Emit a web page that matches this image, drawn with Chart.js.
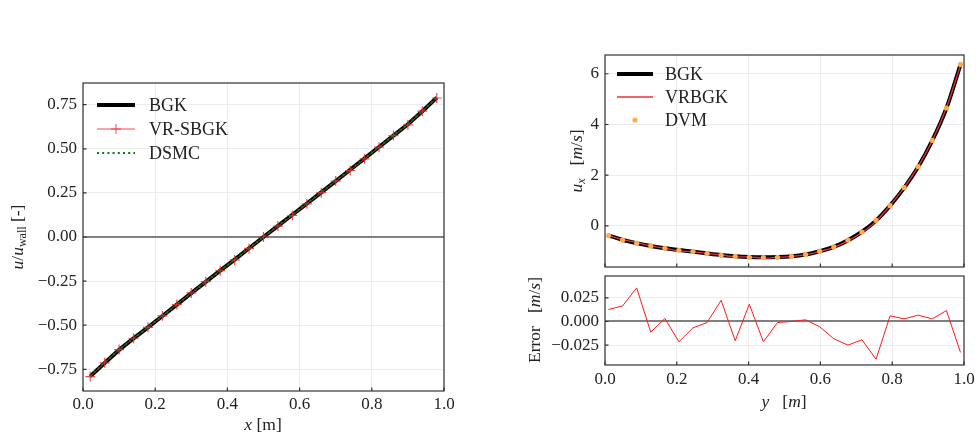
<!DOCTYPE html>
<html>
<head>
<meta charset="utf-8">
<script src="https://cdn.jsdelivr.net/npm/chart.js@4.4.1/dist/chart.umd.min.js"></script>
<style>
html, body { margin: 0; padding: 0; background: #fff; }
#wrap { position: relative; width: 980px; height: 433px; }
#wrap canvas { position: absolute; left: 0; top: 0; }
</style>
</head>
<body>
<div id="wrap">
  <canvas id="chartCouette" width="980" height="433"></canvas>
  <canvas id="chartPerfil" width="980" height="433"></canvas>
  <canvas id="chartError" width="980" height="433"></canvas>
</div>
<script>
// --- datos: flujo de Couette (panel izquierdo) ---
const couetteX = [0.02, 0.06, 0.10, 0.14, 0.18, 0.22, 0.26, 0.30, 0.34, 0.38, 0.42, 0.46, 0.50,
                  0.54, 0.58, 0.62, 0.66, 0.70, 0.74, 0.78, 0.82, 0.86, 0.90, 0.94, 0.98];
const bgkCouette = [-0.790, -0.714, -0.640, -0.575, -0.512, -0.448, -0.383, -0.318, -0.254, -0.191, -0.128, -0.064, 0.000,
                    0.063, 0.126, 0.189, 0.253, 0.317, 0.381, 0.446, 0.510, 0.575, 0.639, 0.713, 0.790];
const vrsbgkCouette = [-0.791, -0.713, -0.638, -0.574, -0.512, -0.447, -0.383, -0.317, -0.253, -0.191, -0.130, -0.065, 0.000,
                       0.062, 0.122, 0.188, 0.251, 0.317, 0.377, 0.443, 0.509, 0.575, 0.636, 0.713, 0.788];
const dsmcCouette = [-0.789, -0.712, -0.639, -0.575, -0.511, -0.448, -0.384, -0.319, -0.255, -0.192, -0.128, -0.064, 0.000,
                     0.064, 0.127, 0.190, 0.254, 0.318, 0.382, 0.446, 0.511, 0.576, 0.640, 0.714, 0.791];
const couetteXTicks = [0.0, 0.2, 0.4, 0.6, 0.8, 1.0];
const couetteYTicks = [-0.75, -0.50, -0.25, 0.00, 0.25, 0.50, 0.75];

// --- datos: perfil u_x (panel derecho) ---
const celdasY = [0.0098, 0.0490, 0.0882, 0.1275, 0.1667, 0.2059, 0.2451, 0.2843, 0.3235, 0.3627, 0.4020, 0.4412, 0.4804,
                 0.5196, 0.5588, 0.5980, 0.6373, 0.6765, 0.7157, 0.7549, 0.7941, 0.8333, 0.8725, 0.9118, 0.9510, 0.9902];
const bgkPerfil = [-0.37, -0.55, -0.68, -0.79, -0.88, -0.95, -1.01, -1.09, -1.15, -1.20, -1.23, -1.24, -1.23,
                   -1.20, -1.13, -1.00, -0.83, -0.57, -0.23, 0.21, 0.80, 1.50, 2.33, 3.37, 4.64, 6.36];
const vrbgkPerfil = [-0.37, -0.54, -0.65, -0.80, -0.88, -0.98, -1.02, -1.09, -1.14, -1.22, -1.22, -1.27, -1.24,
                     -1.20, -1.13, -1.01, -0.85, -0.59, -0.26, 0.18, 0.81, 1.51, 2.35, 3.37, 4.66, 6.34];
const dvmPerfil = [-0.38, -0.56, -0.68, -0.79, -0.88, -0.96, -1.01, -1.09, -1.16, -1.20, -1.24, -1.25, -1.24,
                   -1.20, -1.13, -1.00, -0.83, -0.56, -0.24, 0.22, 0.80, 1.51, 2.34, 3.37, 4.65, 6.37];
const errorPerfil = [0.0127, 0.0165, 0.0356, -0.0113, 0.0032, -0.0215, -0.0067, -0.0011, 0.0225, -0.0204, 0.0183, -0.0215, -0.0011,
                     0.0000, 0.0018, -0.0056, -0.0183, -0.0250, -0.0194, -0.0401, 0.0060, 0.0028, 0.0067, 0.0028, 0.0116, -0.0327];
const perfilXTicks = [0.0, 0.2, 0.4, 0.6, 0.8, 1.0];
const perfilYTicks = [0, 2, 4, 6];
const errorYTicks = [-0.025, 0.000, 0.025];

const FAM = '"Liberation Serif", "DejaVu Serif", serif';
const RM = '17.5px ' + FAM;
const IT = 'italic 17.5px ' + FAM;
const SUB = '12px ' + FAM;
const SUBIT = 'italic 12px ' + FAM;
const LEY = '18px ' + FAM;
const TXT = '#222';
const GRID = '#ececec';

Chart.defaults.animation = false;
Chart.defaults.font.family = FAM;
Chart.defaults.font.size = 17;
Chart.defaults.color = TXT;

function pts(xs, ys) {
    return xs.map((x, i) => ({ x: x, y: ys[i] }));
}

function fmt(dec) {
    return v => {
        let s = Number(v).toFixed(dec);
        if (Number(s) === 0) s = (0).toFixed(dec);
        return s.replace('-', '\u2212');
    };
}

// texto con cursiva / subindices
function textoRico(ctx, partes, x, y, rotar) {
    ctx.save();
    ctx.translate(x, y);
    if (rotar) ctx.rotate(-Math.PI / 2);
    ctx.textBaseline = 'alphabetic';
    ctx.fillStyle = TXT;
    let w = 0;
    partes.forEach(p => { ctx.font = p.f; w += ctx.measureText(p.t).width; });
    let cx = -w / 2;
    partes.forEach(p => {
        ctx.font = p.f;
        ctx.fillText(p.t, cx, 5 + (p.dy || 0));
        cx += ctx.measureText(p.t).width;
    });
    ctx.restore();
}

// marco + ticks hacia adentro + titulos + leyenda
const marcoPlugin = {
    id: 'marco',
    afterDatasetsDraw(chart, args, opts) {
        const ctx = chart.ctx;
        const a = chart.chartArea;
        ctx.save();
        ctx.strokeStyle = '#333';
        ctx.lineWidth = 1.2;
        ctx.strokeRect(a.left, a.top, a.right - a.left, a.bottom - a.top);
        const xs = chart.scales.x, ys = chart.scales.y;
        ctx.beginPath();
        xs.ticks.forEach(t => {
            const px = xs.getPixelForValue(t.value);
            ctx.moveTo(px, a.bottom);
            ctx.lineTo(px, a.bottom - 3.5);
        });
        ys.ticks.forEach(t => {
            const py = ys.getPixelForValue(t.value);
            ctx.moveTo(a.left, py);
            ctx.lineTo(a.left + 3.5, py);
        });
        ctx.stroke();
        ctx.restore();
    },
    afterDraw(chart, args, opts) {
        const ctx = chart.ctx;
        (opts.titulos || []).forEach(t => textoRico(ctx, t.partes, t.x, t.y, t.rotar));
        const ley = opts.leyenda;
        if (!ley) return;
        ley.items.forEach((it, i) => {
            const y = ley.y + i * ley.paso;
            ctx.save();
            if (it.tipo === 'linea') {
                ctx.strokeStyle = it.color;
                ctx.lineWidth = it.ancho;
                ctx.setLineDash(it.dash || []);
                ctx.beginPath();
                ctx.moveTo(ley.x, y);
                ctx.lineTo(ley.x + ley.largo, y);
                ctx.stroke();
                ctx.setLineDash([]);
                if (it.cruz) {
                    const cx = ley.x + ley.largo / 2;
                    ctx.beginPath();
                    ctx.moveTo(cx - 5, y); ctx.lineTo(cx + 5, y);
                    ctx.moveTo(cx, y - 5); ctx.lineTo(cx, y + 5);
                    ctx.stroke();
                }
            } else {
                ctx.fillStyle = it.color;
                ctx.beginPath();
                ctx.arc(ley.x + ley.largo / 2, y, 2.6, 0, Math.PI * 2);
                ctx.fill();
            }
            ctx.fillStyle = TXT;
            ctx.font = LEY;
            ctx.textBaseline = 'middle';
            ctx.fillText(it.texto, ley.x + ley.largo + ley.sep, y + 1);
            ctx.restore();
        });
    }
};

function escala(ticks, min, max, dec, mostrar, fit, cero, pad) {
    return {
        type: 'linear',
        min: min,
        max: max,
        afterBuildTicks: s => { s.ticks = ticks.map(v => ({ value: v })); },
        afterFit: fit,
        border: { display: false },
        grid: {
            drawTicks: false,
            color: c => (cero && c.tick && c.tick.value === 0) ? '#808080' : GRID,
            lineWidth: c => (cero && c.tick && c.tick.value === 0) ? 2 : 1
        },
        ticks: { display: mostrar, padding: pad, color: TXT, font: { size: 17 }, callback: fmt(dec) }
    };
}

function crearGrafico(id, datasets, scales, padding, marco) {
    return new Chart(document.getElementById(id), {
        type: 'scatter',
        data: { datasets: datasets },
        options: {
            responsive: false,
            animation: false,
            layout: { padding: padding },
            scales: scales,
            plugins: { legend: { display: false }, tooltip: { enabled: false }, marco: marco }
        },
        plugins: [marcoPlugin]
    });
}

// --- panel izquierdo ---
crearGrafico('chartCouette', [
    { label: 'DSMC', data: pts(couetteX, dsmcCouette), showLine: true, borderColor: '#0a7a0a', borderWidth: 2,
      borderDash: [2, 3.2], pointRadius: 0 },
    { label: 'VR-SBGK', data: pts(couetteX, vrsbgkCouette), showLine: true, borderColor: 'rgba(235,45,60,0.85)',
      borderWidth: 1, pointStyle: 'cross', pointRadius: 5, pointBorderWidth: 1.2, pointBorderColor: 'rgba(235,45,60,0.85)' },
    { label: 'BGK', data: pts(couetteX, bgkCouette), showLine: true, borderColor: '#000', borderWidth: 4, pointRadius: 0 }
], {
    x: escala(couetteXTicks, 0, 1, 1, true, s => { s.height = 42; }, false, 3),
    y: escala(couetteYTicks, -0.873, 0.873, 2, true, s => { s.width = 83; }, true, 6)
}, { left: 0, top: 83, right: 536, bottom: 0 }, {
    titulos: [
        { partes: [{ t: 'u', f: IT }, { t: '/', f: RM }, { t: 'u', f: IT }, { t: 'wall', f: SUB, dy: 3 }, { t: ' [-]', f: RM }],
          x: 18, y: 237, rotar: true },
        { partes: [{ t: 'x', f: IT }, { t: ' [m]', f: RM }], x: 263, y: 425 }
    ],
    leyenda: { x: 97, y: 105, paso: 24, largo: 38, sep: 14, items: [
        { tipo: 'linea', color: '#000', ancho: 4, texto: 'BGK' },
        { tipo: 'linea', color: 'rgba(235,45,60,0.85)', ancho: 1, cruz: true, texto: 'VR-SBGK' },
        { tipo: 'linea', color: '#0a7a0a', ancho: 2, dash: [2, 3.2], texto: 'DSMC' }
    ] }
});

// --- panel derecho arriba ---
crearGrafico('chartPerfil', [
    { label: 'DVM', data: pts(celdasY, dvmPerfil), showLine: false, pointRadius: 2.6, pointBackgroundColor: '#ffab4f',
      pointBorderWidth: 0 },
    { label: 'VRBGK', data: pts(celdasY, vrbgkPerfil), showLine: true, borderColor: '#e8303a', borderWidth: 1.3,
      pointRadius: 0, cubicInterpolationMode: 'monotone' },
    { label: 'BGK', data: pts(celdasY, bgkPerfil), showLine: true, borderColor: '#000', borderWidth: 4,
      pointRadius: 0, cubicInterpolationMode: 'monotone' }
], {
    x: escala(perfilXTicks, 0, 1, 1, false, s => { s.height = 166; }, false, 3),
    y: escala(perfilYTicks, -1.62, 6.74, 0, true, s => { s.width = 65; }, false, 6)
}, { left: 540, top: 55, right: 16, bottom: 0 }, {
    titulos: [
        { partes: [{ t: 'u', f: IT }, { t: 'x', f: SUBIT, dy: 3 }, { t: '   [', f: RM }, { t: 'm', f: IT }, { t: '/', f: RM },
                   { t: 's', f: IT }, { t: ']', f: RM }], x: 577, y: 161, rotar: true }
    ],
    leyenda: { x: 617, y: 74, paso: 23, largo: 36, sep: 12, items: [
        { tipo: 'linea', color: '#000', ancho: 4, texto: 'BGK' },
        { tipo: 'linea', color: '#e8303a', ancho: 1.3, texto: 'VRBGK' },
        { tipo: 'punto', color: '#ffab4f', texto: 'DVM' }
    ] }
});

// --- panel derecho abajo: error ---
crearGrafico('chartError', [
    { label: 'Error', data: pts(celdasY, errorPerfil), showLine: true, borderColor: '#ff1a1a', borderWidth: 1, pointRadius: 0 }
], {
    x: escala(perfilXTicks, 0, 1, 1, true, s => { s.height = 68; }, false, 4),
    y: escala(errorYTicks, -0.0461, 0.0482, 3, true, s => { s.width = 65; }, true, 6)
}, { left: 540, top: 276, right: 16, bottom: 0 }, {
    titulos: [
        { partes: [{ t: 'Error', f: RM }, { t: '   [', f: RM }, { t: 'm', f: IT }, { t: '/', f: RM }, { t: 's', f: IT },
                   { t: ']', f: RM }], x: 535, y: 320, rotar: true },
        { partes: [{ t: 'y', f: IT }, { t: '   [', f: RM }, { t: 'm', f: IT }, { t: ']', f: RM }], x: 784, y: 402 }
    ]
});
</script>
</body>
</html>
